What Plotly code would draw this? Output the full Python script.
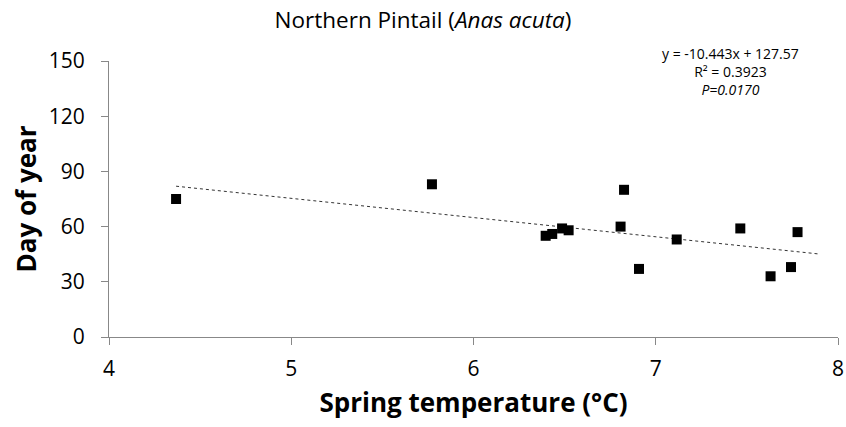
import plotly.graph_objects as go

temp = [4.368, 5.772, 6.396, 6.432, 6.486, 6.522, 6.826, 6.807, 6.908, 7.115, 7.464, 7.778, 7.742, 7.630]
day = [75, 83, 55, 56, 59, 58, 80, 60, 37, 53, 59, 57, 38, 33]
slope = -10.443
intercept = 127.57
trend_x = [min(temp), 7.9]
trend_y = [slope * x + intercept for x in trend_x]
stat_lines = ["y = -10.443x + 127.57", "R² = 0.3923", "<i>P=0.0170</i>"]

FONT = "Open Sans"
AXC = "#888888"

fig = go.Figure()
fig.add_trace(go.Scatter(x=trend_x, y=trend_y, mode="lines",
                         line=dict(color="#333333", width=1, dash="dot"),
                         showlegend=False, hoverinfo="skip"))
fig.add_trace(go.Scatter(x=temp, y=day, mode="markers",
                         marker=dict(symbol="square", size=10, color="black"),
                         showlegend=False))

plot_top, plot_h = 61, 276

fig.update_layout(
    width=846, height=427,
    margin=dict(l=109, r=8, t=61, b=90, autoexpand=False),
    paper_bgcolor="white", plot_bgcolor="white",
    font=dict(family=FONT, color="black"),
    title=dict(text="Northern Pintail (<i>Anas acuta</i>)", x=0.5, xanchor="center",
               y=1 - 20 / 427, yanchor="middle", font=dict(size=22.5, family=FONT)),
    xaxis=dict(range=[4, 8], tickvals=[4, 5, 6, 7, 8], showgrid=False, zeroline=False,
               showline=True, linecolor=AXC, linewidth=1,
               ticks="outside", ticklen=7, tickcolor=AXC, ticklabelstandoff=6,
               tickfont=dict(size=21, family=FONT), automargin=False,
               title=dict(text="<b>Spring temperature (°C)</b>", font=dict(size=26, family=FONT), standoff=12)),
    yaxis=dict(range=[0, 150], tickvals=[0, 30, 60, 90, 120, 150], showgrid=False, zeroline=False,
               showline=True, linecolor=AXC, linewidth=1,
               ticks="outside", ticklen=7, tickcolor=AXC, ticklabelstandoff=12,
               tickfont=dict(size=21, family=FONT), automargin=False,
               title=dict(text="<b>Day of year</b>", font=dict(size=26, family=FONT), standoff=4)),
    annotations=[dict(text="<br>".join(stat_lines), xref="paper", yref="paper", x=0.853,
                      y=(plot_top + plot_h - 71) / plot_h, xanchor="center", yanchor="middle",
                      align="center", showarrow=False, font=dict(size=14, family=FONT))],
)
fig.write_html("out.html", config={"displayModeBar": False},
               post_script="document.body.style.margin='0';")
